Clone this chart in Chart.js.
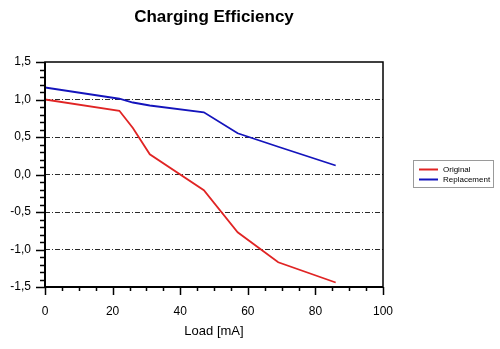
<!DOCTYPE html>
<html>
<head>
<meta charset="utf-8">
<script src="https://cdn.jsdelivr.net/npm/chart.js@4.4.1/dist/chart.umd.min.js"></script>
<style>
  body { margin: 0; background: #fff; }
  #wrap { width: 500px; height: 349px; }
</style>
</head>
<body>
<div id="wrap"><canvas id="eff"></canvas></div>
<script>
Chart.defaults.font.family = '"Liberation Sans", Arial, sans-serif';
Chart.defaults.color = '#000';

const loads = [0, 22, 26, 31, 47, 57, 69, 86];
const original = [1.0, 0.85, 0.62, 0.27, -0.21, -0.77, -1.17, -1.44];
const replacement = [1.16, 1.01, 0.96, 0.92, 0.83, 0.55, 0.37, 0.12];
const series_names = ['Original', 'Replacement'];
const series_colors = ['#e02424', '#1414bc'];

function pairs(ys) {
  return loads.map((x, i) => ({ x: x, y: ys[i] }));
}

// frame, minor ticks, title and legend box
const decor = {
  id: 'decor',
  afterDraw(chart) {
    const ctx = chart.ctx;
    const a = chart.chartArea;
    const xs = chart.scales.x, ys = chart.scales.y;
    ctx.save();
    ctx.strokeStyle = '#000';
    ctx.lineWidth = 1.5;
    ctx.strokeRect(a.left, a.top, a.right - a.left, a.bottom - a.top);
    ctx.lineWidth = 2;
    ctx.beginPath();
    ctx.moveTo(a.left, a.top); ctx.lineTo(a.left, a.bottom); ctx.lineTo(a.right, a.bottom);
    ctx.stroke();

    ctx.lineWidth = 1.5;
    ctx.beginPath();
    for (let i = -15; i <= 15; i++) {
      const py = Math.round(ys.getPixelForValue(i / 10)) + 0.5;
      const len = i % 5 === 0 ? 9 : 5;
      ctx.moveTo(a.left - len, py); ctx.lineTo(a.left, py);
    }
    for (let v = 0; v <= 100; v += 5) {
      const px = Math.round(xs.getPixelForValue(v)) + 0.5;
      const len = v % 20 === 0 ? 8 : 4;
      ctx.moveTo(px, a.bottom); ctx.lineTo(px, a.bottom + len);
    }
    ctx.stroke();

    ctx.fillStyle = '#000';
    ctx.font = 'bold 17px "Liberation Sans", Arial, sans-serif';
    ctx.textAlign = 'center';
    ctx.textBaseline = 'middle';
    ctx.fillText('Charging Efficiency', 214, 17);

    // legend
    ctx.strokeStyle = '#9a9a9a';
    ctx.lineWidth = 1;
    ctx.strokeRect(413.5, 160.5, 80, 27);
    ctx.font = '8px "Liberation Sans", Arial, sans-serif';
    ctx.textAlign = 'left';
    chart.data.datasets.forEach((ds, i) => {
      const y = 169.5 + i * 10;
      ctx.strokeStyle = ds.borderColor;
      ctx.lineWidth = 2;
      ctx.beginPath(); ctx.moveTo(419, y); ctx.lineTo(438, y); ctx.stroke();
      ctx.fillStyle = '#000';
      ctx.fillText(ds.label, 443, y);
    });
    ctx.restore();
  }
};

new Chart(document.getElementById('eff'), {
  type: 'line',
  data: {
    datasets: [
      { label: series_names[0], data: pairs(original), borderColor: series_colors[0], borderWidth: 1.8, pointRadius: 0, tension: 0 },
      { label: series_names[1], data: pairs(replacement), borderColor: series_colors[1], borderWidth: 1.8, pointRadius: 0, tension: 0 }
    ]
  },
  options: {
    responsive: true,
    maintainAspectRatio: false,
    animation: false,
    layout: { padding: { top: 62, right: 117, left: 0, bottom: 0 } },
    plugins: { legend: { display: false }, title: { display: false }, tooltip: { enabled: false } },
    scales: {
      x: {
        type: 'linear',
        min: 0, max: 100,
        afterFit(s) { s.height = 62; },
        ticks: { stepSize: 20, padding: 17, font: { size: 12 } },
        grid: { display: false, drawTicks: false },
        border: { display: false },
        title: { display: true, text: 'Load [mA]', font: { size: 13 }, padding: { top: 4, bottom: 10 } }
      },
      y: {
        min: -1.5, max: 1.5,
        afterFit(s) { s.width = 45; },
        ticks: {
          stepSize: 0.5, padding: 14, font: { size: 12 },
          callback: v => v.toFixed(1).replace('.', ',')
        },
        grid: {
          drawTicks: false,
          color: ctx => (Math.abs(ctx.tick.value) > 1.4 ? 'rgba(0,0,0,0)' : '#2a2a2a'),
          lineWidth: 1
        },
        border: { display: false, dash: [5, 2, 1, 2] }
      }
    }
  },
  plugins: [decor]
});
</script>
</body>
</html>
